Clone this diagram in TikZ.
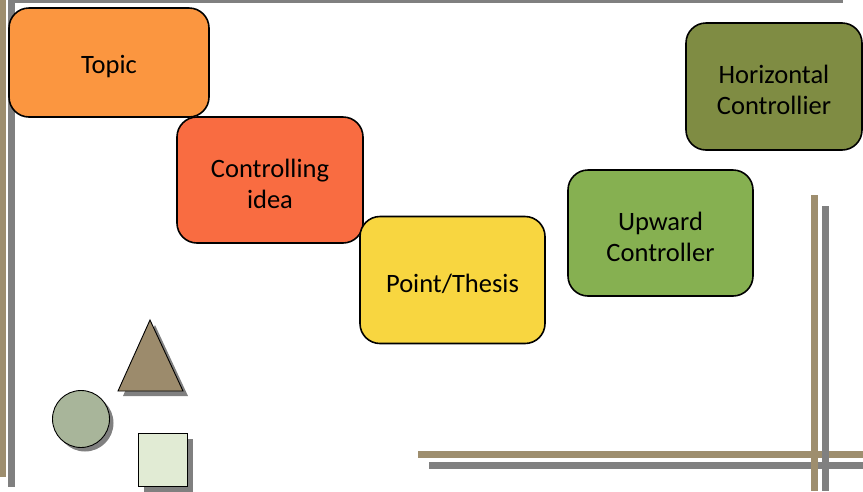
\documentclass[tikz,border=0pt]{standalone}
\usepackage{fontspec}
\setmainfont{Carlito}
\definecolor{topicC}{RGB}{251,150,64}
\definecolor{ideaC}{RGB}{249,108,65}
\definecolor{pointC}{RGB}{248,214,64}
\definecolor{upC}{RGB}{134,176,81}
\definecolor{horC}{RGB}{127,140,67}
\definecolor{tanC}{RGB}{158,142,110}
\definecolor{grayC}{RGB}{128,128,128}
\definecolor{triC}{RGB}{156,139,108}
\definecolor{circC}{RGB}{168,181,154}
\definecolor{sqC}{RGB}{225,235,212}
\tikzstyle{idea map}=[
    x=1pt, y=-1pt,
    idea box/.style={draw=black, line width=1.6pt, rounded corners=20pt,
        align=center, font={\fontsize{26.5}{31}\selectfont}, inner sep=0pt,
        text height=26pt},
    two lines/.style={text height=57pt},
    rule tan/.style={tanC, line width=7pt},
    rule gray/.style={grayC, line width=7pt},
    deco shape/.style={draw=black, line width=0.9pt},
    deco shadow/.style={fill=grayC, draw=none},
]

\begin{document}
\begin{tikzpicture}[idea map]
    \useasboundingbox (0,0) rectangle (863,491);
    % frame lines
    \draw[rule tan] (2,0) -- (2,477);
    \draw[rule gray] (11,0) -- (11,487);
    \draw[grayC, line width=4pt] (11,1) -- (843,1);
    \draw[rule tan] (418,454) -- (863,454);
    \draw[rule gray] (429,465.5) -- (863,465.5);
    \draw[rule tan] (814,195) -- (814,491);
    \draw[rule gray] (825,206) -- (825,491);
    % boxes
    \node[idea box, fill=topicC, minimum width=200pt, minimum height=109pt] (topic) at (109,62.5) {Topic};
    \node[idea box, two lines, fill=ideaC, minimum width=186pt, minimum height=126pt] (idea) at (270,180) {Controlling\\idea};
    \node[idea box, fill=pointC, minimum width=185pt, minimum height=127pt] (thesis) at (452.5,280) {Point/Thesis};
    \node[idea box, two lines, fill=upC, minimum width=185pt, minimum height=126pt] (upward) at (660.5,233) {Upward\\Controller};
    \node[idea box, two lines, fill=horC, minimum width=176pt, minimum height=127pt] (horizontal) at (774,86.5) {Horizontal\\Controllier};
    % small shapes
    \fill[deco shadow] (155,325) -- (188,396) -- (123,396) -- cycle;
    \draw[deco shape, fill=triC] (150,320) -- (183,391) -- (118,391) -- cycle;
    \fill[deco shadow] (85,423) circle (28.5);
    \draw[deco shape, fill=circC] (81,419) circle (28.5);
    \fill[deco shadow] (144,439) rectangle (193,492);
    \draw[deco shape, fill=sqC] (138,433) rectangle (187,486);
\end{tikzpicture}
\end{document}
